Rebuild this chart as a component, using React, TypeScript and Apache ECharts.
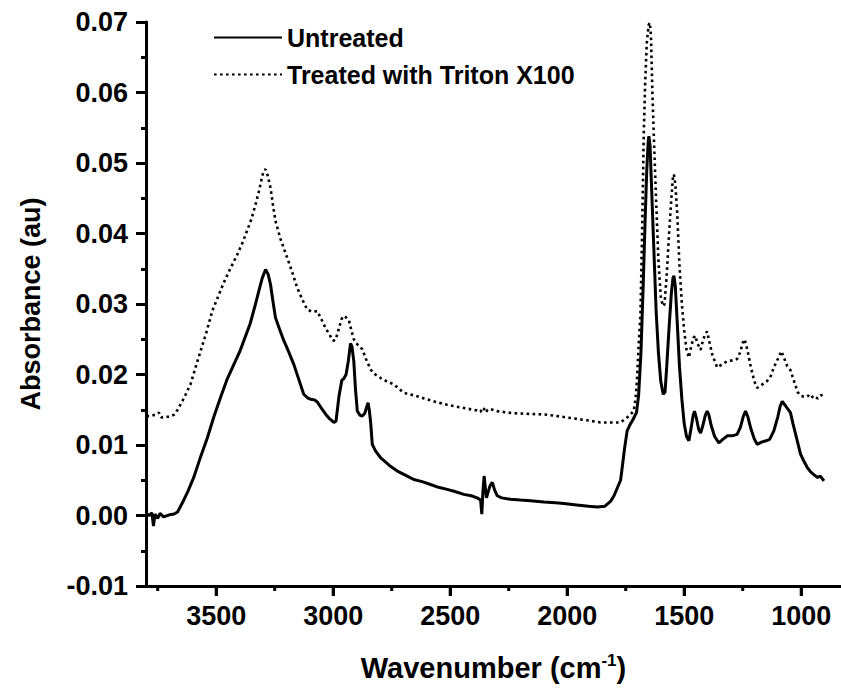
import React, { useEffect, useRef } from "react";
import * as echarts from "echarts";

const untreatedWn = [3798,3785,3775,3768,3762,3750,3740,3725,3700,3680,3665,3640,3620,3596,3570,3538,3510,3482,3455,3425,3400,3382,3355,3332,3315,3303,3289,3278,3268,3258,3247,3230,3211,3190,3168,3146,3126,3110,3097,3080,3068,3050,3033,3015,2997,2988,2975,2963,2955,2945,2935,2926,2920,2912,2905,2897,2885,2876,2865,2856,2851,2846,2840,2833,2820,2798,2760,2726,2690,2656,2620,2584,2550,2513,2480,2442,2410,2385,2370,2365,2360,2355,2350,2345,2340,2330,2320,2310,2299,2280,2242,2200,2156,2100,2050,2014,1960,1908,1871,1840,1815,1800,1786,1772,1765,1755,1744,1730,1722,1710,1704,1695,1685,1675,1667,1660,1654,1651,1646,1640,1630,1620,1610,1600,1590,1582,1575,1565,1555,1548,1544,1538,1530,1520,1510,1500,1490,1480,1470,1462,1456,1448,1438,1430,1420,1410,1402,1395,1385,1370,1352,1335,1316,1295,1274,1260,1248,1238,1228,1215,1200,1188,1170,1150,1135,1117,1100,1090,1081,1070,1055,1046,1035,1020,1003,990,974,960,946,930,918,903];
const untreatedAbs = [0.0003,0.0,0.0004,-0.0015,0.0002,-0.0004,0.0003,-0.0002,0.0001,0.0002,0.0005,0.0021,0.0035,0.0054,0.008,0.011,0.014,0.0167,0.0192,0.0214,0.0232,0.0248,0.0272,0.03,0.0322,0.0337,0.0349,0.0342,0.0328,0.0305,0.0281,0.0265,0.0248,0.0232,0.0214,0.0192,0.0172,0.0167,0.0165,0.0164,0.0161,0.0152,0.0144,0.0137,0.0132,0.0134,0.017,0.0192,0.0194,0.02,0.022,0.0244,0.024,0.0219,0.018,0.0148,0.0142,0.0141,0.0145,0.0155,0.016,0.015,0.0132,0.0101,0.0092,0.0082,0.0071,0.0063,0.0057,0.0051,0.0048,0.0044,0.004,0.0037,0.0034,0.003,0.0028,0.0025,0.0022,0.0002,0.0035,0.0056,0.004,0.0025,0.0031,0.0042,0.0047,0.0036,0.0028,0.0025,0.0023,0.0022,0.0021,0.0019,0.0018,0.0017,0.0015,0.0013,0.0012,0.0013,0.002,0.0028,0.0039,0.005,0.0068,0.0095,0.012,0.013,0.0134,0.0142,0.0146,0.017,0.023,0.033,0.042,0.049,0.053,0.0538,0.0525,0.047,0.038,0.029,0.023,0.019,0.0172,0.0175,0.021,0.0265,0.0315,0.0337,0.034,0.0325,0.0275,0.021,0.0165,0.013,0.0112,0.0106,0.0125,0.0142,0.0148,0.0138,0.0122,0.0117,0.0128,0.0142,0.0148,0.0143,0.0128,0.0112,0.0103,0.0108,0.0113,0.0113,0.0115,0.0125,0.014,0.0148,0.014,0.0123,0.0108,0.0101,0.0104,0.0106,0.0108,0.012,0.014,0.0155,0.0162,0.0157,0.015,0.0146,0.013,0.011,0.0087,0.0078,0.0068,0.0062,0.0058,0.0054,0.0056,0.0049];

const treatedWn = [3798,3780,3760,3745,3735,3720,3700,3680,3665,3645,3630,3610,3590,3567,3540,3517,3490,3468,3440,3410,3390,3368,3350,3332,3315,3303,3295,3289,3280,3268,3258,3247,3225,3197,3175,3154,3130,3111,3090,3068,3050,3033,3015,3000,2990,2975,2965,2957,2945,2933,2922,2912,2895,2876,2860,2840,2820,2797,2770,2741,2720,2698,2650,2612,2560,2513,2450,2385,2370,2363,2355,2348,2340,2330,2300,2228,2150,2086,2000,1915,1858,1800,1772,1744,1725,1716,1708,1702,1695,1687,1680,1673,1667,1660,1652,1647,1642,1636,1628,1620,1610,1600,1591,1584,1575,1565,1555,1548,1544,1538,1530,1520,1510,1500,1490,1480,1470,1460,1452,1445,1430,1420,1410,1402,1395,1380,1359,1340,1316,1295,1274,1260,1250,1242,1230,1215,1200,1188,1170,1145,1130,1117,1100,1085,1075,1060,1046,1030,1015,1003,985,970,960,946,930,915,903];
const treatedAbs = [0.0141,0.0141,0.0143,0.0146,0.0139,0.014,0.014,0.0143,0.015,0.0162,0.0172,0.0186,0.0208,0.0233,0.0262,0.029,0.0312,0.033,0.035,0.037,0.0385,0.0404,0.042,0.0441,0.0463,0.0482,0.049,0.0491,0.0482,0.0465,0.0442,0.0418,0.0392,0.0366,0.0345,0.0323,0.0305,0.0292,0.0289,0.029,0.0278,0.0266,0.0256,0.0248,0.0249,0.0266,0.0278,0.0283,0.0281,0.0277,0.0262,0.025,0.0242,0.0236,0.0222,0.0207,0.02,0.0195,0.019,0.0186,0.018,0.0174,0.017,0.0166,0.0161,0.0157,0.0153,0.0149,0.0147,0.0153,0.0151,0.0146,0.015,0.0151,0.0148,0.0145,0.0144,0.0143,0.0139,0.0135,0.0132,0.0132,0.0132,0.0139,0.0145,0.0148,0.0165,0.0191,0.024,0.0285,0.04,0.054,0.0612,0.067,0.0696,0.0699,0.068,0.06,0.052,0.0446,0.036,0.031,0.0297,0.03,0.034,0.0399,0.045,0.048,0.0484,0.047,0.043,0.0352,0.03,0.0262,0.0235,0.0224,0.024,0.0252,0.0255,0.0245,0.0235,0.0248,0.0258,0.0261,0.025,0.0228,0.021,0.0214,0.0219,0.022,0.0222,0.0232,0.0245,0.025,0.0235,0.021,0.019,0.0181,0.0185,0.0191,0.0198,0.021,0.0222,0.0233,0.0225,0.0212,0.0206,0.019,0.0175,0.017,0.0168,0.017,0.0166,0.017,0.0166,0.0171,0.0168];

const majorXTicks = [3500, 3000, 2500, 2000, 1500, 1000];
const minorXTicks = [3750, 3250, 2750, 2250, 1750, 1250];
const seriesNames = ["Untreated", "Treated with Triton X100"];

const FONT = "'Liberation Sans', Arial, sans-serif";
const X_MIN = 830;
const X_MAX = 3800;
const Y_MIN = -0.01;
const Y_MAX = 0.07;

export default function App() {
  const ref = useRef<HTMLDivElement>(null);
  useEffect(() => {
    if (!ref.current) return;
    const chart = echarts.init(ref.current, undefined, { renderer: "svg" });
    chart.setOption({
      animation: false,
      grid: { left: 146, right: 0, top: 22, bottom: 104 },
      legend: {
        orient: "vertical",
        left: 213,
        top: 25,
        padding: 0,
        itemGap: 12,
        itemWidth: 68,
        itemHeight: 25,
        itemStyle: { opacity: 0 },
        textStyle: { fontFamily: FONT, fontWeight: "bold", fontSize: 25, color: "#000" },
        data: seriesNames,
      },
      xAxis: {
        type: "value",
        min: X_MIN,
        max: X_MAX,
        inverse: true,
        splitLine: { show: false },
        axisLine: { show: true, onZero: false, lineStyle: { color: "#000", width: 3 } },
        axisTick: { show: true, inside: false, length: 10, lineStyle: { color: "#000", width: 3 }, customValues: majorXTicks },
        axisLabel: {
          customValues: majorXTicks,
          formatter: (v: number) => String(v),
          fontFamily: FONT,
          fontWeight: "bold",
          fontSize: 27,
          color: "#000",
          margin: 16,
        },
        name: "Wavenumber (cm{sup|-1})",
        nameLocation: "middle",
        nameGap: 66,
        nameTextStyle: {
          fontFamily: FONT,
          fontWeight: "bold",
          fontSize: 29,
          color: "#000",
          rich: {
            sup: {
              fontFamily: FONT,
              fontWeight: "bold",
              fontSize: 17,
              color: "#000",
              verticalAlign: "top",
              padding: [0, 0, 14, 0],
            },
          },
        },
      },
      yAxis: {
        type: "value",
        min: Y_MIN,
        max: Y_MAX,
        interval: 0.01,
        splitLine: { show: false },
        axisLine: { show: true, onZero: false, lineStyle: { color: "#000", width: 3 } },
        axisTick: { show: true, length: 10, lineStyle: { color: "#000", width: 3 } },
        minorTick: { show: true, splitNumber: 2, length: 5, lineStyle: { color: "#000", width: 3 } },
        minorSplitLine: { show: false },
        axisLabel: {
          formatter: (v: number) => v.toFixed(2),
          fontFamily: FONT,
          fontWeight: "bold",
          fontSize: 27,
          color: "#000",
          margin: 18,
        },
        name: "Absorbance (au)",
        nameLocation: "middle",
        nameGap: 102,
        nameTextStyle: { fontFamily: FONT, fontWeight: "bold", fontSize: 27, color: "#000" },
      },
      series: [
        {
          name: seriesNames[0],
          type: "line",
          symbol: "none",
          showSymbol: false,
          smooth: false,
          lineStyle: { color: "#000", width: 3 },
          itemStyle: { color: "#000" },
          data: untreatedWn.map((w, i) => [w, untreatedAbs[i]]),
        },
        {
          name: seriesNames[1],
          type: "line",
          symbol: "none",
          showSymbol: false,
          smooth: false,
          lineStyle: { color: "#000", width: 2.6, type: [2.6, 3.4] },
          itemStyle: { color: "#000" },
          data: treatedWn.map((w, i) => [w, treatedAbs[i]]),
        },
      ],
    });

    // Tick marks placed through the chart's own x scale (fallback drawing).
    const yBase = chart.convertToPixel({ yAxisIndex: 0 }, Y_MIN) as number;
    const tickLine = (v: number, len: number) => {
      const x = chart.convertToPixel({ xAxisIndex: 0 }, v) as number;
      return {
        type: "line",
        z: 100,
        silent: true,
        shape: { x1: x, y1: yBase, x2: x, y2: yBase + len },
        style: { stroke: "#000", lineWidth: 3 },
      };
    };
    chart.setOption({
      graphic: [
        ...majorXTicks.map((v) => tickLine(v, 10)),
        ...minorXTicks.map((v) => tickLine(v, 5)),
      ],
    });

    return () => chart.dispose();
  }, []);
  return (
    <div
      ref={ref}
      style={{ position: "fixed", left: 0, top: 0, width: 841, height: 690, background: "#fff" }}
    />
  );
}
